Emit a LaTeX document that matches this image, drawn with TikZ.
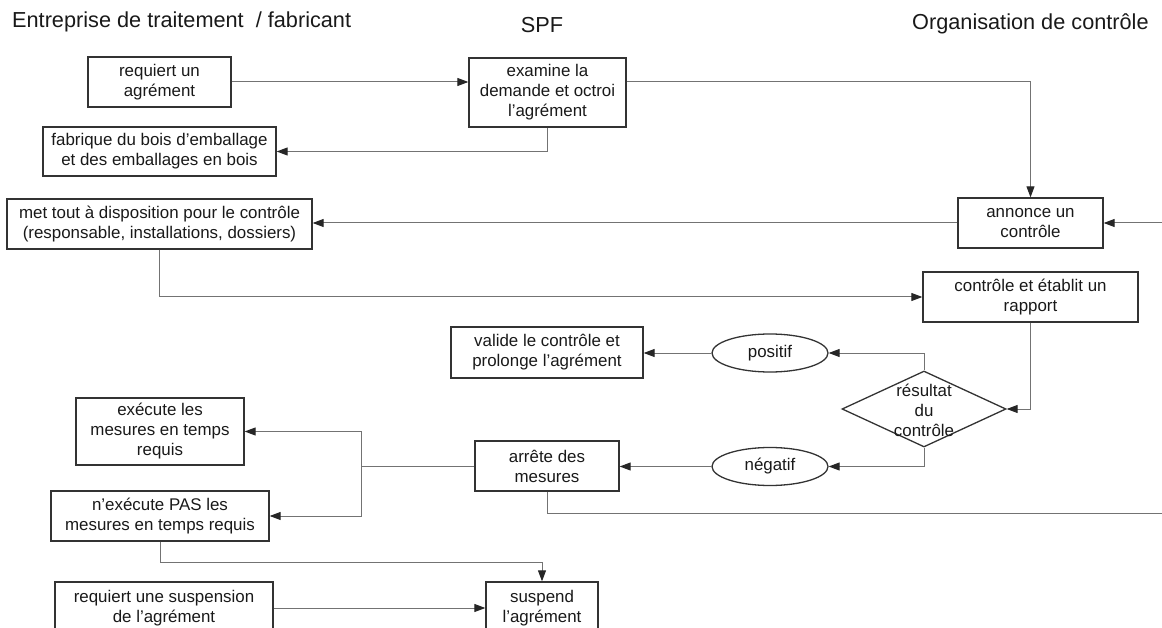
\documentclass[tikz,border=0pt]{standalone}
\usepackage{fontspec}
\setmainfont{Liberation Sans}
\usetikzlibrary{arrows.meta,shapes.geometric}
\begin{document}
\begin{tikzpicture}[x=1pt,y=-1pt,
  box/.style={draw=black!80, line width=1.3pt, align=center, inner sep=0pt,
    font=\fontsize{16.9}{20}\selectfont, text=black!90},
  oval/.style={ellipse, draw=black!80, line width=1.3pt, inner sep=0pt,
    minimum width=116pt, minimum height=38pt,
    font=\fontsize{16.9}{20}\selectfont, text=black!90},
  lbl/.style={align=center, inner sep=0pt, font=\fontsize{16.9}{20}\selectfont, text=black!90},
  conn/.style={draw=black!55, line width=1pt, -{Triangle[length=11pt,width=8pt,color=black!85]}},
  plain/.style={draw=black!55, line width=1pt},
  head/.style={inner sep=0pt, font=\fontsize{21.7}{26}\selectfont, text=black!90}
]
\useasboundingbox (0,0) rectangle (1162,628);
\clip (0,0) rectangle (1162,628);

% headers
\node[head, anchor=base west] (h1) at (12,28) {Entreprise de traitement \ / fabricant};
\node[head, anchor=base] (h2) at (542,33) {SPF};
\node[head, anchor=base west] (h3) at (912,29.5) {Organisation de contrôle};

% boxes
\node[box, minimum width=143pt, minimum height=50pt] (req) at (159.5,82) {requiert un\\agrément};
\node[box, minimum width=157pt, minimum height=69pt] (exam) at (547.5,92.5) {examine la\\demande et octroi\\l’agrément};
\node[box, minimum width=233pt, minimum height=49pt] (fab) at (159.5,151.5) {fabrique du bois d’emballage\\et des emballages en bois};
\node[box, minimum width=145pt, minimum height=50pt] (ann) at (1030.5,223) {annonce un\\contrôle};
\node[box, minimum width=305pt, minimum height=50pt] (met) at (159.5,224) {met tout à disposition pour le contrôle\\(responsable, installations, dossiers)};
\node[box, minimum width=215pt, minimum height=50pt] (ctrl) at (1030.5,297) {contrôle et établit un\\rapport};
\node[diamond, draw=black!80, line width=1.3pt, inner sep=0pt, minimum width=164pt, minimum height=76pt] (res) at (924,409) {};
\node[lbl] (restxt) at (924,410) {résultat\\du\\contrôle};
\node[oval] (pos) at (770,353) {positif};
\node[oval] (neg) at (770,466.5) {négatif};
\node[box, minimum width=192pt, minimum height=51pt] (val) at (547,352.5) {valide le contrôle et\\prolonge l’agrément};
\node[box, minimum width=144pt, minimum height=50pt] (arr) at (547,466) {arrête des\\mesures};
\node[box, minimum width=168pt, minimum height=67pt] (exe) at (160,431.5) {exécute les\\mesures en temps\\requis};
\node[box, minimum width=218pt, minimum height=50pt] (nexe) at (160,516) {n’exécute PAS les\\mesures en temps requis};
\node[box, minimum width=218pt, minimum height=52pt] (reqs) at (164,608) {requiert une suspension\\de l’agrément};
\node[box, minimum width=112pt, minimum height=52pt] (susp) at (542,608) {suspend\\l’agrément};

% free ends and bends
\coordinate (rin) at (1162,223);
\coordinate (rout) at (1162,513);
\coordinate (jn) at (361,466);
\coordinate (nbend) at (160,562);

% connectors
\draw[conn] (req.east) -- (req.east -| exam.west);
\draw[conn] (exam.east |- req.east) -| (ann.north);
\draw[conn] (exam.south) |- (fab.east);
\draw[conn] (ann.west) -- (ann.west -| met.east);
\draw[conn] (rin) -- (ann.east);
\draw[conn] (met.south) |- (ctrl.west);
\draw[conn] (ctrl.south) |- (res.east);
\draw[conn] (res.north) |- (pos.east);
\draw[conn] (pos.west) -- (pos.west -| val.east);
\draw[conn] (res.south) |- (neg.east);
\draw[conn] (neg.west) -- (neg.west -| arr.east);
\draw[plain] (arr.west) -- (jn);
\draw[conn] (jn) |- (exe.east);
\draw[conn] (jn) |- (nexe.east);
\draw[plain] (arr.south) |- (rout);
\draw[conn] (nexe.south) -- (nbend) -| (susp.north);
\draw[conn] (reqs.east) -- (reqs.east -| susp.west);
\end{tikzpicture}
\end{document}
